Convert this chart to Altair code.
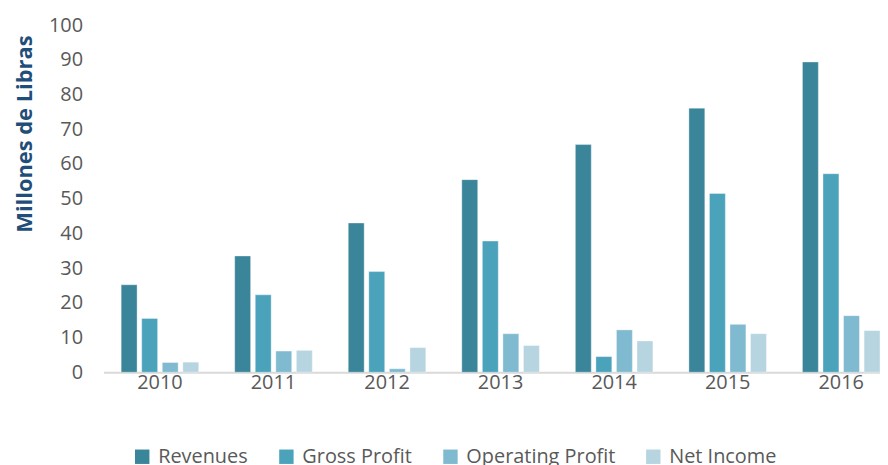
import altair as alt
import pandas as pd

years = ["2010", "2011", "2012", "2013", "2014", "2015", "2016"]
series = ["Revenues", "Gross Profit", "Operating Profit", "Net Income"]
revenues = [25.2, 33.5, 43.0, 55.5, 65.6, 76.1, 89.4]
gross_profit = [15.5, 22.3, 29.0, 37.8, 4.5, 51.5, 57.2]
operating_profit = [2.8, 6.1, 1.0, 11.1, 12.2, 13.8, 16.3]
net_income = [2.9, 6.3, 7.1, 7.7, 9.0, 11.1, 12.0]
colors = ["#3a8599", "#4aa3bb", "#80bad0", "#b6d5e0"]

rows = []
for name, vals in zip(series, [revenues, gross_profit, operating_profit, net_income]):
    for y, v in zip(years, vals):
        rows.append({"year": y, "series": name, "value": v})
df = pd.DataFrame(rows)

FONT = "Open Sans"

chart = alt.Chart(df).mark_bar(stroke="#ffffff", strokeWidth=0.6, strokeOpacity=0.6).encode(
    x=alt.X("year:N", sort=years, title=None,
            scale=alt.Scale(paddingInner=0.317, paddingOuter=0.078, align=1),
            axis=alt.Axis(labelAngle=0, labelFontSize=20, labelColor="#595959", labelFont=FONT,
                          ticks=False, domainColor="#d9d9d9", domainWidth=2, labelPadding=0)),
    xOffset=alt.XOffset("series:N", sort=series, scale=alt.Scale(paddingInner=0.226)),
    y=alt.Y("value:Q", title="Millones de Libras",
            scale=alt.Scale(domain=[0, 100], nice=False),
            axis=alt.Axis(values=list(range(0, 101, 10)), grid=False, domain=False, ticks=False,
                          labelFontSize=20, labelColor="#595959", labelFont=FONT, labelPadding=21,
                          titleFont=FONT, titleFontSize=22, titleFontWeight="bold", titleColor="#1f4e79",
                          titleX=-79, titleY=109, titleAlign="center", titleBaseline="middle", titleAngle=-90)),
    color=alt.Color("series:N", sort=series, title=None,
                    scale=alt.Scale(domain=series, range=colors),
                    legend=alt.Legend(orient="none", legendX=29, legendY=424, direction="horizontal",
                                      symbolType="square", symbolSize=210, symbolStrokeWidth=0,
                                      labelFontSize=20, labelColor="#595959", labelFont=FONT,
                                      columnPadding=28, labelOffset=6)),
).properties(
    width=781, height=349,
    autosize=alt.AutoSizeParams(type="none"),
    padding={"left": 96, "top": 16, "right": 0, "bottom": 92},
).configure_view(stroke=None)

chart.save("out.html", embed_options={"renderer": "svg", "actions": False})
